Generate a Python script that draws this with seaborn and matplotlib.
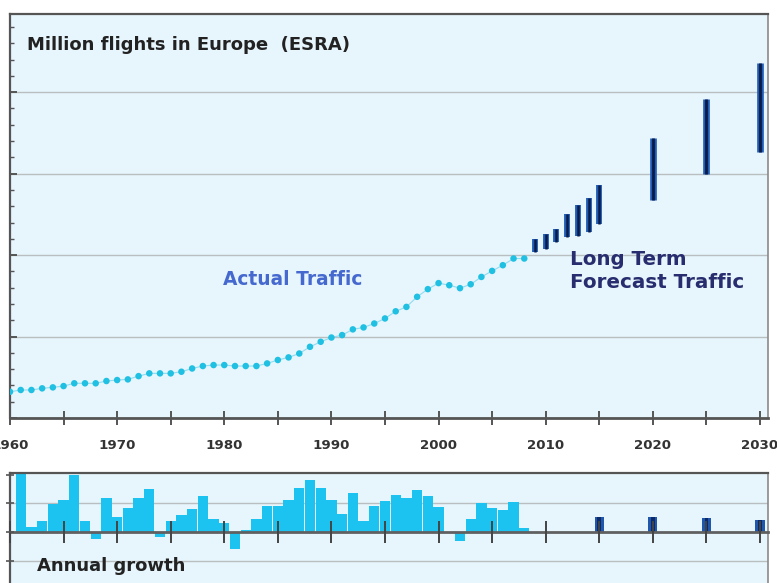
import numpy as np
import pandas as pd
import seaborn as sns
import matplotlib.pyplot as plt
from matplotlib.ticker import MultipleLocator

# actual traffic, million flights
years = list(range(1960, 2009))
flights = [1.61, 1.72, 1.72, 1.82, 1.88, 1.96, 2.13, 2.13, 2.13, 2.27,
           2.33, 2.37, 2.57, 2.74, 2.74, 2.74, 2.84, 3.04, 3.19, 3.25,
           3.25, 3.19, 3.19, 3.19, 3.35, 3.56, 3.72, 3.96, 4.37, 4.68,
           4.94, 5.09, 5.44, 5.56, 5.80, 6.11, 6.55, 6.82, 7.44, 7.91,
           8.28, 8.15, 7.97, 8.21, 8.66, 9.03, 9.38, 9.79, 9.79]

# forecast ranges
fc_years = [2009, 2010, 2011, 2012, 2013, 2014, 2015, 2020, 2025, 2030]
fc_low = [10.2, 10.4, 10.8, 11.1, 11.2, 11.4, 11.9, 13.4, 15.0, 16.3]
fc_high = [11.0, 11.3, 11.6, 12.5, 13.1, 13.5, 14.3, 17.2, 19.6, 21.8]

# annual growth, %
gr_years = list(range(1961, 2009))
growth = [11.0, 0.9, 1.9, 4.9, 5.6, 9.9, 1.9, -1.3, 6.0, 2.6,
          4.2, 6.0, 7.5, -0.9, 2.0, 2.9, 4.1, 6.3, 2.3, 1.6,
          -3.0, 0.3, 2.3, 4.5, 4.5, 5.6, 7.7, 9.0, 7.7, 5.6,
          3.2, 6.8, 1.9, 4.5, 5.4, 6.4, 5.9, 7.3, 6.3, 4.4,
          -0.2, -1.6, 2.3, 5.0, 4.2, 3.9, 5.2, 0.7]
fc_gr_years = [2015, 2020, 2025, 2030]
fc_growth = [2.6, 2.6, 2.4, 2.1]

df = pd.DataFrame({"year": years, "flights": flights})

sns.set_style("white")
plt.rcParams['font.family'] = ['DejaVu Sans']

W, H = 777, 583
fig = plt.figure(figsize=(W / 100, H / 100), dpi=100)
bg = "#e7f5fc"
x0, x1 = 1960, 2030.75

# ---------- top panel ----------
ax = fig.add_axes([10 / W, 165 / H, 758 / W, 404 / H])
ax.set_facecolor(bg)
ax.set_xlim(x0, x1)
ax.set_ylim(0, 24.8)
ax.yaxis.set_major_locator(MultipleLocator(5))
ax.yaxis.set_minor_locator(MultipleLocator(1))
ax.xaxis.set_major_locator(MultipleLocator(10))
ax.xaxis.set_minor_locator(MultipleLocator(5))
ax.grid(axis="y", which="major", color="#b9bec1", lw=1)
ax.set_axisbelow(True)

sns.lineplot(data=df, x="year", y="flights", ax=ax, color="#8fdcf0", lw=0.8)
sns.scatterplot(data=df, x="year", y="flights", ax=ax, color="#1fc0e2",
                s=22, marker="o", edgecolor="none", zorder=3)

ax.vlines(fc_years[:7], fc_low[:7], fc_high[:7], color="#1f5cb5", lw=4.2, zorder=3)
ax.vlines(fc_years[:7], fc_low[:7], fc_high[:7], color="#0b1b48", lw=1.8, zorder=4)
ax.vlines(fc_years[7:], fc_low[7:], fc_high[7:], color="#1f5cb5", lw=4.8, zorder=3)
ax.vlines(fc_years[7:], fc_low[7:], fc_high[7:], color="#0b1b48", lw=2.0, zorder=4)

for s in ["left", "bottom", "top"]:
    ax.spines[s].set_color("#555555")
ax.spines["bottom"].set_linewidth(2)
ax.spines["left"].set_linewidth(1.6)
ax.spines["top"].set_linewidth(1.6)
ax.spines["right"].set_color("#8a8a8a")
ax.spines["right"].set_linewidth(1.2)

ax.tick_params(axis="y", which="both", direction="in", left=True, labelleft=False,
               color="#555555")
ax.tick_params(axis="y", which="major", length=5, width=1.4)
ax.tick_params(axis="y", which="minor", length=3, width=1)
ax.tick_params(axis="x", which="both", direction="inout", bottom=True, length=10,
               width=1.4, color="#555555")
ax.tick_params(axis="x", which="major", pad=10, labelsize=9.6, labelcolor="#333333")
ax.set_xticks(range(1960, 2031, 10))
ax.set_xticklabels([str(y) for y in range(1960, 2031, 10)], fontweight="bold")
ax.set_xlabel("")
ax.set_ylabel("")

ax.text(0.022, 0.923, "Million flights in Europe  (ESRA)", transform=ax.transAxes,
        fontsize=13, fontweight="bold", color="#222222", va="center", ha="left")
ax.text(0.281, 0.344, "Actual Traffic", transform=ax.transAxes,
        fontsize=13.4, fontweight="bold", color="#4569cf", va="center", ha="left")
ax.text(0.739, 0.364, "Long Term\nForecast Traffic", transform=ax.transAxes,
        fontsize=14.3, fontweight="bold", color="#272d6e", va="center", ha="left",
        linespacing=1.25)

# ---------- bottom panel ----------
bx = fig.add_axes([10 / W, 0, 758 / W, 110 / H])
bx.set_facecolor(bg)
bx.set_xlim(x0, x1)
bx.set_ylim(-8.9, 10.3)
bx.yaxis.set_major_locator(MultipleLocator(5))
bx.xaxis.set_major_locator(MultipleLocator(5))
bx.set_axisbelow(False)
for g in [5, -5]:
    bx.axhline(g, color="#b9bec1", lw=1, zorder=0.5)

bx.bar(gr_years, growth, width=0.96, color="#1cc3f1", edgecolor="none", zorder=1)
bx.bar(fc_gr_years, fc_growth, width=0.85, color="#1f57ad", edgecolor="none", zorder=1)
bx.bar(fc_gr_years, fc_growth, width=0.35, color="#0e2a66", edgecolor="none", zorder=1)

bx.spines["bottom"].set_position(("data", 0))
bx.spines["bottom"].set_color("#606060")
bx.spines["bottom"].set_linewidth(2)
bx.spines["left"].set_color("#555555")
bx.spines["left"].set_linewidth(1.6)
bx.spines["top"].set_color("#555555")
bx.spines["top"].set_linewidth(1.6)
bx.spines["right"].set_color("#8a8a8a")
bx.spines["right"].set_linewidth(1.2)
bx.tick_params(axis="x", which="both", direction="inout", bottom=True, length=16,
               width=1.4, color="#444444", labelbottom=False)
bx.tick_params(axis="y", direction="inout", left=True, length=6, width=1.2,
               color="#555555", labelleft=False)

bx.text(0.036, 0.155, "Annual growth", transform=bx.transAxes,
        fontsize=13, fontweight="bold", color="#222222", va="center", ha="left")

fig.savefig("out.png", dpi=100, facecolor="white")
